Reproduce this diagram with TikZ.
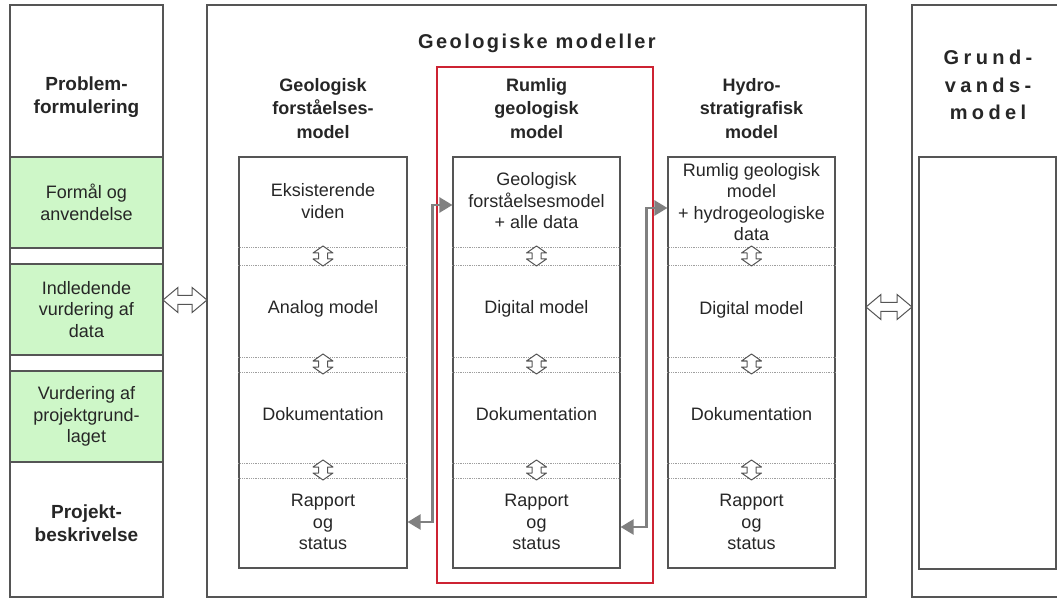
\documentclass[tikz,border=0pt]{standalone}
\usepackage{fontspec}
\setmainfont{Liberation Sans}
\usepackage{tikz}
\usetikzlibrary{shapes.arrows,arrows.meta}
\definecolor{boxgray}{RGB}{85,85,85}
\definecolor{palegreen}{RGB}{206,247,200}
\definecolor{framered}{RGB}{205,35,50}
\definecolor{linkgray}{RGB}{128,128,128}

\tikzset{
  vdbl/.pic={\draw[boxgray,fill=white,line width=1pt,line join=round]
    (0,-10) -- (10,-3) -- (4.5,-3) -- (4.5,3) -- (10,3) -- (0,10)
    -- (-10,3) -- (-4.5,3) -- (-4.5,-3) -- (-10,-3) -- cycle;}
}

\begin{document}
\begin{tikzpicture}
  [x=1pt,y=-1pt,
   every node/.style={inner sep=0pt,text=black!85},
   panel/.style={draw=boxgray,line width=1.1pt},
   greenbox/.style={panel,fill=palegreen,minimum width=153pt,align=center,
     font=\fontsize{18}{21.5}\selectfont},
   colbox/.style={panel,minimum height=411pt,minimum width=167pt},
   txt/.style={align=center,font=\fontsize{18}{21.5}\selectfont},
   head/.style={align=center,font=\fontsize{18}{23.5}\selectfont\bfseries},
   sep/.style={draw=gray!75,densely dotted,line width=0.8pt},
   hdbl/.style={double arrow,draw=boxgray,fill=white,line width=1pt,
     inner xsep=0pt,inner ysep=4pt,double arrow head extend=8pt,
     double arrow tip angle=80},
   link/.style={draw=linkgray,line width=2.4pt,
     {Triangle[length=13pt,width=15pt]}-{Triangle[length=13pt,width=15pt]}}]

  \useasboundingbox (0,0) rectangle (1057,601);
  \clip (0,0) rectangle (1057,601);

  % outer panels
  \node (prob)  at (86.5,301)  [panel,minimum width=153pt,minimum height=592pt] {};
  \node (geo)   at (536.5,301) [panel,minimum width=659pt,minimum height=592pt] {};
  \node (grund) at (993.5,301) [panel,minimum width=163pt,minimum height=592pt] {};
  \node (grundin) at (987.5,363) [panel,minimum width=137pt,minimum height=412pt] {};

  % left column
  \node (probhd) at (86.5,97)  [align=center,font=\fontsize{19}{22.5}\selectfont\bfseries] {Problem-\\formulering};
  \node (formaal) at (86.5,202.5) [greenbox,minimum height=91pt] {Formål og\\anvendelse};
  \node (indl)    at (86.5,309.5) [greenbox,minimum height=91pt] {Indledende\\vurdering af\\data};
  \node (vurd)    at (86.5,416.5) [greenbox,minimum height=91pt] {Vurdering af\\projektgrund-\\laget};
  \node (projhd) at (86.5,523) [align=center,font=\fontsize{19}{22.5}\selectfont\bfseries] {Projekt-\\beskrivelse};

  % titles
  \node (title) at (537,43) [font=\fontsize{20}{24}\selectfont\bfseries\addfontfeatures{LetterSpace=12}] {Geologiske modeller};
  \node (grundhd) at (988,85) [align=center,font=\fontsize{20}{27.5}\selectfont\bfseries\addfontfeatures{LetterSpace=22}] {Grund-\\vands-\\model};

  % red frame round the spatial model
  \node (rum) at (545,325) [draw=framered,line width=2.4pt,minimum width=216pt,minimum height=516pt] {};

  % the three model columns
  \node (hd1) at (323,108.5)   [head] {Geologisk\\forståelses-\\model};
  \node (hd2) at (536.5,108.5) [head] {Rumlig\\geologisk\\model};
  \node (hd3) at (751.5,108.5) [head] {Hydro-\\stratigrafisk\\model};

  \node (c1) at (323,362.5)   [colbox,minimum width=168pt] {};
  \node (c2) at (536.5,362.5) [colbox] {};
  \node (c3) at (751.5,362.5) [colbox] {};

  \foreach \c in {c1,c2,c3}
    \foreach \y in {247,265,357,372,463,478}
      \draw[sep] (\c.west |- 0,\y) -- (\c.east |- 0,\y);

  \node (e1)  at (323,201)   [txt] {Eksisterende\\viden};
  \node (a1)  at (323,309)   [txt] {Analog model};
  \node (d1)  at (323,414)   [txt] {Dokumentation};
  \node (r1)  at (323,522)   [txt] {Rapport\\og\\status};
  \node (g2)  at (536.5,201) [txt] {Geologisk\\forståelsesmodel\\+ alle data};
  \node (dg2) at (536.5,309) [txt] {Digital model};
  \node (d2)  at (536.5,414) [txt] {Dokumentation};
  \node (r2)  at (536.5,522) [txt] {Rapport\\og\\status};
  \node (h3)  at (751.5,202) [txt] {Rumlig geologisk\\model\\+ hydrogeologiske\\data};
  \node (dg3) at (751.5,310) [txt] {Digital model};
  \node (d3)  at (751.5,414) [txt] {Dokumentation};
  \node (r3)  at (751.5,522) [txt] {Rapport\\og\\status};

  \foreach \c in {c1,c2,c3}
    \foreach \y in {256,364,470}
      \pic at (\c.center |- 0,\y) {vdbl};

  % exchange arrows between the panels
  \node (lr) at (185,300) [hdbl,minimum height=44pt] {};
  \node (rr) at (889,307) [hdbl,minimum height=46pt] {};

  % feedback links
  \draw[link] (c1.east |- 0,522) -- ++(25,0) |- (c2.west |- 0,205);
  \draw[link] (c2.east |- 0,527) -- ++(26,0) |- (c3.west |- 0,208);
\end{tikzpicture}
\end{document}
